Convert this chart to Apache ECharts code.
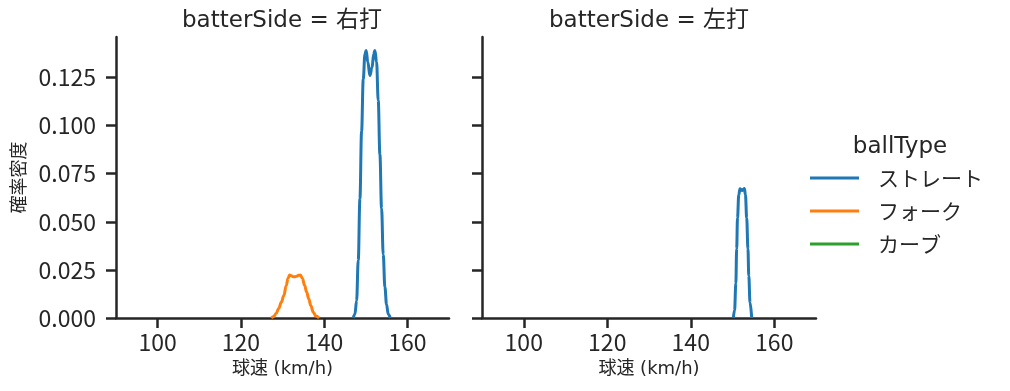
<!DOCTYPE html>
<html lang="ja">
<head>
  <meta charset="utf-8">
  <script src="https://cdn.jsdelivr.net/npm/echarts@6.0.0/dist/echarts.min.js"></script>
</head>
<body style="margin:0; background:#fff">
  <div id="main" style="width:1010px;height:391px"></div>
  <script>
    // facet titles / legend
    var panels = ['batterSide = 右打', 'batterSide = 左打'];
    var ballTypes = ['ストレート', 'フォーク', 'カーブ'];
    var xTicks = [100, 120, 140, 160];
    var yTicks = [0, 0.025, 0.05, 0.075, 0.1, 0.125];

    // 右打 ストレート (KDE)
    var rStraightX = [147.0, 147.4, 147.8, 148.2, 148.6, 149.0, 149.4, 149.8, 150.1, 150.5, 151.0, 151.5, 151.9, 152.2, 152.6, 153.0, 153.4, 153.8, 154.2, 154.6, 155.0, 155.4, 155.9];
    var rStraightY = [0, 0.002, 0.009, 0.030, 0.062, 0.097, 0.124, 0.137, 0.139, 0.133, 0.126, 0.130, 0.137, 0.139, 0.133, 0.113, 0.085, 0.057, 0.033, 0.016, 0.007, 0.002, 0];
    // 右打 フォーク
    var rForkX = [127.3, 127.9, 128.5, 129.1, 129.7, 130.3, 130.9, 131.3, 131.7, 132.1, 132.6, 133.0, 133.4, 133.9, 134.3, 134.8, 135.3, 135.8, 136.3, 136.8, 137.4, 138.0, 138.8];
    var rForkY = [0, 0.0008, 0.0025, 0.005, 0.0082, 0.0115, 0.0168, 0.0205, 0.0223, 0.0220, 0.0214, 0.0214, 0.0217, 0.0222, 0.0223, 0.0205, 0.0170, 0.0135, 0.0100, 0.0065, 0.0030, 0.0010, 0];
    // 左打 ストレート
    var lStraightX = [150.2, 150.5, 150.8, 151.0, 151.2, 151.5, 151.8, 152.0, 152.3, 152.6, 152.85, 153.1, 153.4, 153.7, 153.9, 154.2, 154.6];
    var lStraightY = [0, 0.004, 0.018, 0.036, 0.052, 0.064, 0.0672, 0.0668, 0.0662, 0.0668, 0.0673, 0.064, 0.052, 0.036, 0.022, 0.008, 0];

    var colors = ['#1f77b4', '#ff7f0e', '#2ca02c'];
    var ink = '#262626';
    var font = "'Noto Sans CJK JP', 'Noto Sans', sans-serif";
    var wideFont = "'DejaVu Sans', 'Noto Sans CJK JP', sans-serif";

    function pairs(xs, ys) {
      return xs.map(function (x, i) { return [x, ys[i]]; });
    }

    var chart = echarts.init(document.getElementById('main'), null, { renderer: 'canvas' });

    function xAxisFor(idx) {
      return {
        type: 'value', gridIndex: idx, min: 90, max: 170,
        name: '球速 (km/h)', nameLocation: 'middle', nameGap: 42,
        nameTextStyle: { fontSize: 18, color: ink, fontFamily: wideFont },
        axisLine: { lineStyle: { color: ink, width: 2.5 } },
        axisTick: { length: 10, lineStyle: { color: ink, width: 2.5 }, customValues: xTicks },
        axisLabel: { fontSize: 23, color: ink, fontFamily: font, margin: 13, customValues: xTicks },
        splitLine: { show: false }
      };
    }
    function yAxisFor(idx) {
      return {
        type: 'value', gridIndex: idx, min: 0, max: 0.146,
        name: idx === 0 ? '確率密度' : '', nameLocation: 'middle', nameGap: 89, nameRotate: 90,
        nameTextStyle: { fontSize: 18, color: ink, fontFamily: font },
        axisLine: { show: true, lineStyle: { color: ink, width: 2.5 } },
        axisTick: { show: true, length: 10, lineStyle: { color: ink, width: 2.5 }, customValues: yTicks },
        axisLabel: {
          show: idx === 0, fontSize: 23, color: ink, fontFamily: font, margin: 20,
          customValues: yTicks,
          formatter: function (v) { return v.toFixed(3); }
        },
        splitLine: { show: false }
      };
    }
    function lineSeries(name, idx, data, color) {
      return {
        name: name, type: 'line', xAxisIndex: idx, yAxisIndex: idx,
        data: data, showSymbol: false, smooth: 0.4, smoothMonotone: 'x',
        lineStyle: { color: color, width: 3 }, itemStyle: { color: color },
        animation: false
      };
    }

    var option = {
      animation: false,
      grid: [
        { left: 116, top: 37, width: 333, height: 281 },
        { left: 482, top: 37, width: 334, height: 281 }
      ],
      xAxis: [xAxisFor(0), xAxisFor(1)],
      yAxis: [yAxisFor(0), yAxisFor(1)],
      legend: {
        orient: 'vertical', left: 810, top: 167, padding: 0,
        data: ballTypes, icon: 'rect', itemWidth: 49, itemHeight: 3, itemGap: 11,
        textStyle: { fontSize: 21, lineHeight: 22, color: ink, fontFamily: font, padding: [0, 0, 0, 14] }
      },
      graphic: [
        { type: 'text', x: 282, y: 21, style: { text: panels[0], font: '23px ' + wideFont, fill: ink, textAlign: 'center', textVerticalAlign: 'middle' } },
        { type: 'text', x: 649, y: 21, style: { text: panels[1], font: '23px ' + wideFont, fill: ink, textAlign: 'center', textVerticalAlign: 'middle' } },
        { type: 'text', x: 900, y: 147, style: { text: 'ballType', font: '23px ' + wideFont, fill: ink, textAlign: 'center', textVerticalAlign: 'middle' } }
      ],
      series: [
        lineSeries(ballTypes[0], 0, pairs(rStraightX, rStraightY), colors[0]),
        lineSeries(ballTypes[1], 0, pairs(rForkX, rForkY), colors[1]),
        lineSeries(ballTypes[2], 0, [], colors[2]),
        lineSeries(ballTypes[0], 1, pairs(lStraightX, lStraightY), colors[0])
      ]
    };
    chart.setOption(option);
  </script>
</body>
</html>
